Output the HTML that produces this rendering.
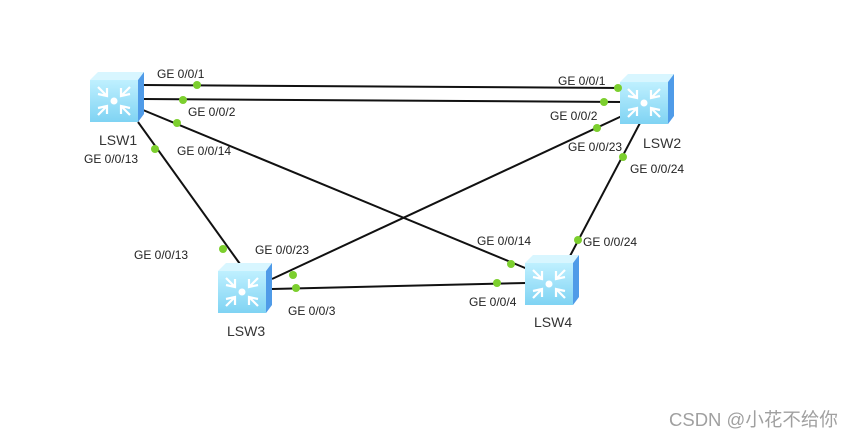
<!DOCTYPE html>
<html><head><meta charset="utf-8"><style>
html,body{margin:0;padding:0;background:#fff;}
svg{display:block}
text{font-family:"Liberation Sans",Arial,sans-serif;font-size:12px;fill:#222}
.n{font-size:14px;fill:#333}
</style></head><body>
<svg width="857" height="440" viewBox="0 0 857 440" xmlns="http://www.w3.org/2000/svg">
<defs>
<linearGradient id="g" x1="0" y1="0" x2="0" y2="1"><stop offset="0" stop-color="#bff0ff"/><stop offset="1" stop-color="#7fd3f3"/></linearGradient>
<g id="sw">
<polygon points="0,8 8,0 54,0 48,8" fill="#d8f6ff"/>
<rect x="0" y="8" width="48" height="42" fill="url(#g)"/>
<polygon points="48,8 54,0 54,42 48,50" fill="#4f9be8"/>
<g stroke="#fff" stroke-width="2.2" fill="none">
<path d="M8,15 l9,9 M8,22 l9,2 l0,-8"/>
<path d="M40,15 l-9,9 M40,22 l-9,2 l0,-8"/>
<path d="M8,43 l9,-9 M8,36 l9,-2 l0,8"/>
<path d="M40,43 l-9,-9 M40,36 l-9,-2 l0,8"/>
</g>
<circle cx="24" cy="29" r="3.5" fill="#fff"/>
</g>
</defs>
<g stroke="#111" stroke-width="2">
<line x1="143" y1="85" x2="622" y2="88"/>
<line x1="143" y1="99" x2="622" y2="102"/>
<line x1="143" y1="110" x2="530" y2="270"/>
<line x1="138" y1="122" x2="240" y2="264"/>
<line x1="622" y1="116" x2="272" y2="279"/>
<line x1="640" y1="123" x2="570" y2="256"/>
<line x1="272" y1="289" x2="526" y2="283"/>
</g>
<use href="#sw" x="90" y="72"/>
<use href="#sw" x="620" y="74"/>
<use href="#sw" x="218" y="263"/>
<use href="#sw" x="525" y="255"/>
<g fill="#7ccf2e">
<circle cx="197" cy="85" r="4"/><circle cx="618" cy="88" r="4"/>
<circle cx="183" cy="100" r="4"/><circle cx="604" cy="102" r="4"/>
<circle cx="177" cy="123" r="4"/><circle cx="511" cy="264" r="4"/>
<circle cx="155" cy="149" r="4"/><circle cx="223" cy="249" r="4"/>
<circle cx="597" cy="128" r="4"/><circle cx="293" cy="275" r="4"/>
<circle cx="623" cy="157" r="4"/><circle cx="578" cy="240" r="4"/>
<circle cx="296" cy="288" r="4"/><circle cx="497" cy="283" r="4"/>
</g>
<text x="157" y="78">GE 0/0/1</text>
<text x="188" y="116">GE 0/0/2</text>
<text x="177" y="155">GE 0/0/14</text>
<text x="84" y="163">GE 0/0/13</text>
<text class="n" x="99" y="145">LSW1</text>
<text x="558" y="85">GE 0/0/1</text>
<text x="550" y="120">GE 0/0/2</text>
<text x="568" y="151">GE 0/0/23</text>
<text x="630" y="173">GE 0/0/24</text>
<text class="n" x="643" y="148">LSW2</text>
<text x="134" y="259">GE 0/0/13</text>
<text x="255" y="254">GE 0/0/23</text>
<text x="288" y="315">GE 0/0/3</text>
<text class="n" x="227" y="336">LSW3</text>
<text x="477" y="245">GE 0/0/14</text>
<text x="583" y="246">GE 0/0/24</text>
<text x="469" y="306">GE 0/0/4</text>
<text class="n" x="534" y="327">LSW4</text>
<text x="669" y="426" style="font-family:'Liberation Sans','Noto Sans CJK SC',sans-serif;font-size:18.5px;fill:#a0a0a0">CSDN @小花不给你</text>
</svg>
</body></html>
